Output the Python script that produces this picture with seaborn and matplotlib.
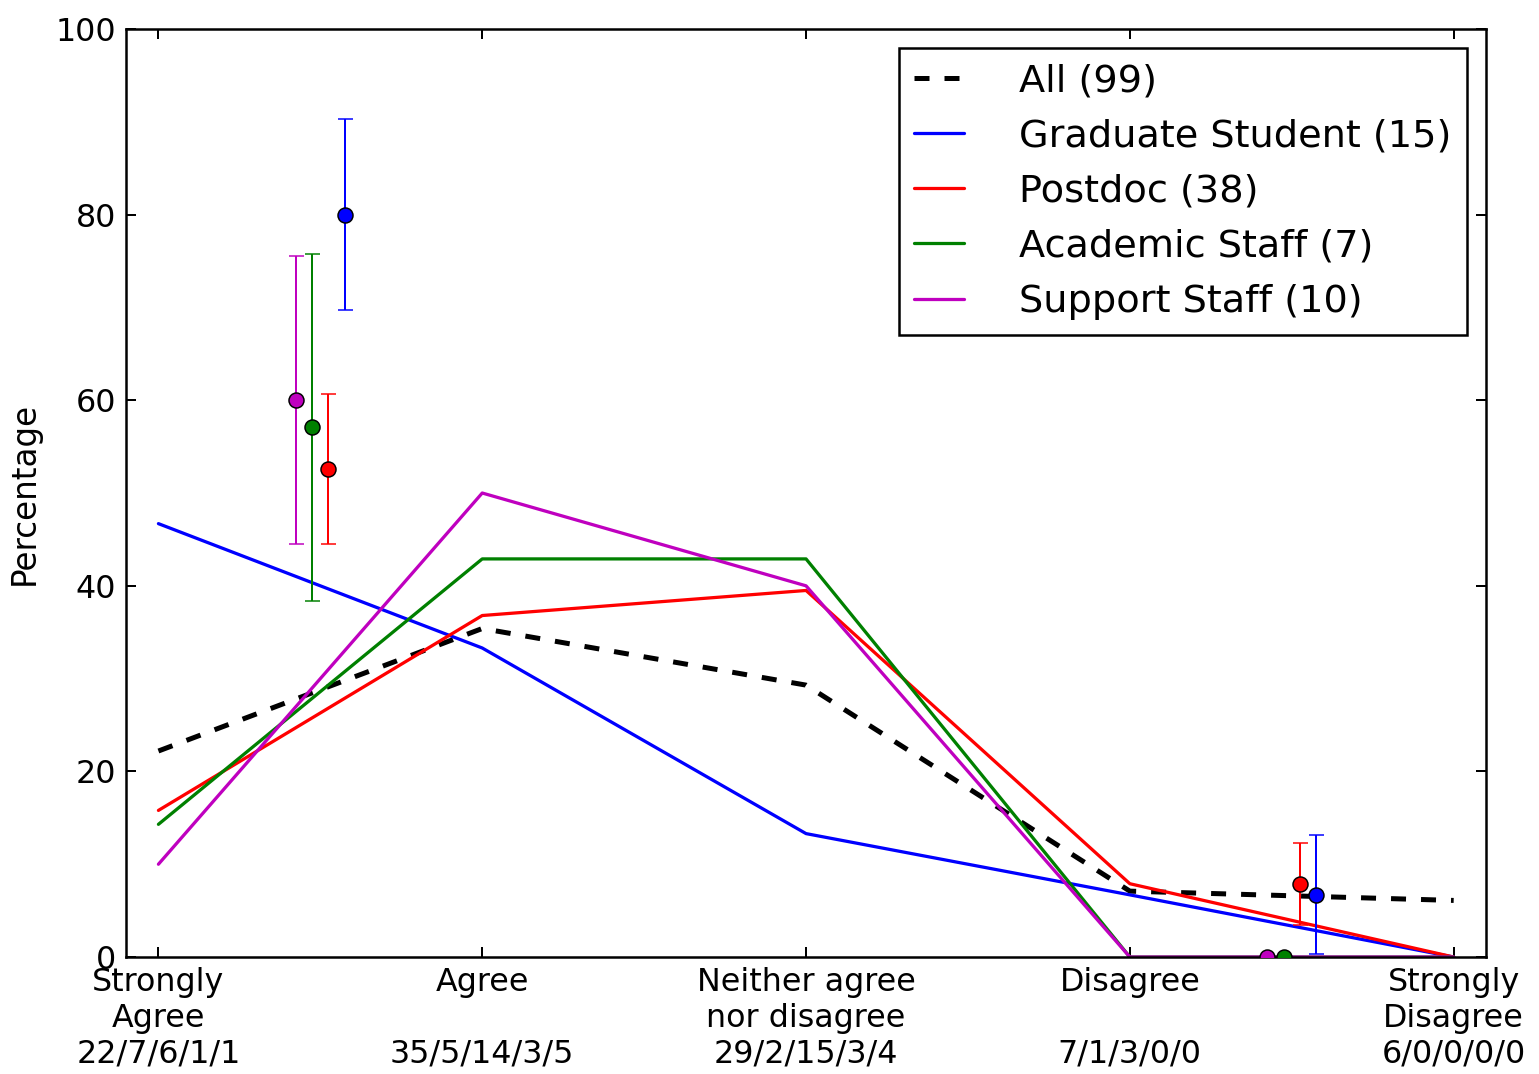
import pandas as pd
import matplotlib
matplotlib.use("Agg")
import matplotlib.pyplot as plt
import seaborn as sns

# categorias y etiquetas del eje x
categorias = ["Strongly\nAgree\n22/7/6/1/1", "Agree\n\n35/5/14/3/5",
              "Neither agree\nnor disagree\n29/2/15/3/4", "Disagree\n\n7/1/3/0/0",
              "Strongly\nDisagree\n6/0/0/0/0"]
posiciones = [0, 1, 2, 3, 4]

grupos = ["All (99)", "Graduate Student (15)", "Postdoc (38)",
          "Academic Staff (7)", "Support Staff (10)"]
colores = ["black", "blue", "red", "green", "m"]

# porcentajes por grupo
pct_all = [22.2, 35.4, 29.3, 7.1, 6.1]
pct_grad = [46.7, 33.3, 13.3, 6.7, 0.0]
pct_postdoc = [15.8, 36.8, 39.5, 7.9, 0.0]
pct_academic = [14.3, 42.9, 42.9, 0.0, 0.0]
pct_support = [10.0, 50.0, 40.0, 0.0, 0.0]

# puntos con barras de error (grad, postdoc, academic, support)
agree_pct = [80.0, 52.6, 57.1, 60.0]
agree_err = [10.3, 8.1, 18.7, 15.5]
disagree_pct = [6.7, 7.9, 0.0, 0.0]
disagree_err = [6.4, 4.4, 0.0, 0.0]
desplaz = [0.575, 0.525, 0.475, 0.425]

series = [pct_all, pct_grad, pct_postdoc, pct_academic, pct_support]

sns.set_style("ticks")
plt.rcParams["font.family"] = ["DejaVu Sans"]
plt.rcParams["lines.scale_dashes"] = False
plt.rcParams["text.color"] = "black"
plt.rcParams["axes.labelcolor"] = "black"

fig, ax = plt.subplots(figsize=(1539 / 180, 1074 / 180), dpi=180)
fig.subplots_adjust(left=0.0819, right=0.9656, top=0.973, bottom=0.1089)

for g, c, vals in zip(grupos, colores, series):
    df = pd.DataFrame({"pos": posiciones, "pct": vals})
    if g.startswith("All"):
        sns.lineplot(data=df, x="pos", y="pct", color=c, lw=2, dashes=False,
                     linestyle=(0, (6, 6)), ax=ax, label=g)
    else:
        sns.lineplot(data=df, x="pos", y="pct", color=c, lw=1.3, ax=ax, label=g)

for i, c in enumerate(colores[1:]):
    ax.errorbar(desplaz[i], agree_pct[i], yerr=agree_err[i], fmt="o", color=c,
                mfc=c, mec="black", mew=0.6, ms=6, capsize=3, elinewidth=0.8,
                capthick=0.8, zorder=5)
    ax.errorbar(3 + desplaz[i], disagree_pct[i], yerr=disagree_err[i], fmt="o",
                color=c, mfc=c, mec="black", mew=0.6, ms=6, capsize=3,
                elinewidth=0.8, capthick=0.8, zorder=5)

ax.set_xlim(-0.1, 4.1)
ax.set_ylim(0, 100)
ax.set_xticks(posiciones)
ax.set_xticklabels(categorias)
ax.set_yticks([0, 20, 40, 60, 80, 100])
ax.set_xlabel("")
ax.set_ylabel("Percentage", fontsize=13, labelpad=6)
ax.tick_params(direction="in", length=4, width=0.8, labelsize=12.7, pad=4,
               top=True, right=True, colors="black")
for s in ax.spines.values():
    s.set_linewidth(1)
    s.set_color("black")

leg = ax.legend(loc="upper right", fontsize=15.3, handlelength=1.3,
                handletextpad=1.45, labelspacing=0.5, borderpad=0.4,
                fancybox=False, framealpha=1, edgecolor="black")
leg.get_frame().set_linewidth(1)

plt.savefig("out.png", dpi=180)
